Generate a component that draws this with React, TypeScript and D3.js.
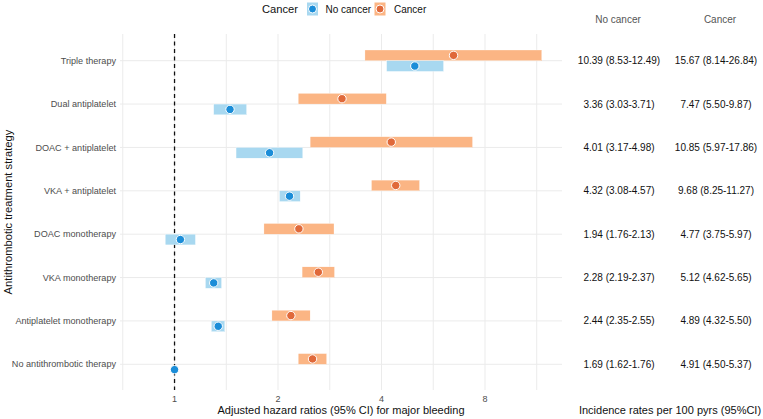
import * as d3 from "d3";

const categories = [
  "Triple therapy",
  "Dual antiplatelet",
  "DOAC + antiplatelet",
  "VKA + antiplatelet",
  "DOAC monotherapy",
  "VKA monotherapy",
  "Antiplatelet monotherapy",
  "No antithrombotic therapy",
];

// adjusted hazard ratios
const cancerHr = [6.48, 3.07, 4.27, 4.4, 2.3, 2.62, 2.18, 2.52];
const cancerLo = [3.58, 2.29, 2.48, 3.74, 1.82, 2.35, 1.92, 2.29];
const cancerHi = [11.7, 4.13, 7.36, 5.16, 2.91, 2.92, 2.48, 2.77];

const noCancerHr = [5.0, 1.45, 1.89, 2.16, 1.04, 1.3, 1.34, 1.0];
const noCancerLo = [4.14, 1.3, 1.51, 2.02, 0.94, 1.23, 1.28, 1.0];
const noCancerHi = [6.06, 1.62, 2.36, 2.32, 1.15, 1.37, 1.4, 1.0];

const noCancerIr = [
  "10.39 (8.53-12.49)",
  "3.36 (3.03-3.71)",
  "4.01 (3.17-4.98)",
  "4.32 (3.08-4.57)",
  "1.94 (1.76-2.13)",
  "2.28 (2.19-2.37)",
  "2.44 (2.35-2.55)",
  "1.69 (1.62-1.76)",
];
const cancerIr = [
  "15.67 (8.14-26.84)",
  "7.47 (5.50-9.87)",
  "10.85 (5.97-17.86)",
  "9.68 (8.25-11.27)",
  "4.77 (3.75-5.97)",
  "5.12 (4.62-5.65)",
  "4.89 (4.32-5.50)",
  "4.91 (4.50-5.37)",
];

const xTicks = [1, 2, 4, 8];

const W = 763;
const H = 419;
const font = "'Liberation Sans', Arial, sans-serif";

const orangeFill = "#fbb584";
const orangePt = "#e0693a";
const blueFill = "#a8d8f0";
const bluePt = "#1b8dd8";

export default function App() {
  const panelL = 120;
  const panelR = 562;
  const panelT = 34;
  const panelB = 390;

  const x = d3.scaleLog().base(2).domain([0.694, 13.4]).range([panelL, panelR]);
  const y = d3.scalePoint<string>().domain(categories).range([60.7, 364.3]);

  const gridVals = d3.range(-1, 8).map((k) => Math.pow(2, k / 2));
  const bh = 10.7;

  const series = [
    { name: "Cancer", hr: cancerHr, lo: cancerLo, hi: cancerHi, fill: orangeFill, pt: orangePt, off: -bh },
    { name: "No cancer", hr: noCancerHr, lo: noCancerLo, hi: noCancerHi, fill: blueFill, pt: bluePt, off: 0 },
  ];

  return (
    <svg
      width={W}
      height={H}
      style={{ position: "absolute", left: 0, top: 0, background: "#fff" }}
      fontFamily={font}
    >
      {/* grid */}
      {gridVals.map((v) => (
        <line key={"gx" + v} x1={x(v)} x2={x(v)} y1={panelT} y2={panelB} stroke="#ebebeb" strokeWidth={1} />
      ))}
      {categories.map((c) => (
        <line key={"gy" + c} x1={panelL} x2={panelR} y1={y(c)} y2={y(c)} stroke="#ebebeb" strokeWidth={1} />
      ))}

      {/* dashed reference */}
      <line x1={x(1)} x2={x(1)} y1={panelT} y2={panelB} stroke="#111" strokeWidth={1.3} strokeDasharray="4,3.5" />

      {/* bars + points */}
      {series.map((s) =>
        categories.map((c, i) => {
          const y0 = (y(c) as number) + s.off;
          const w = x(s.hi[i]) - x(s.lo[i]);
          return (
            <g key={s.name + c}>
              {w > 0 && (
                <rect x={x(s.lo[i])} y={y0} width={w} height={bh} fill={s.fill} stroke="#fff" strokeWidth={0.3} />
              )}
              <circle cx={x(s.hr[i])} cy={y0 + bh / 2} r={4.2} fill={s.pt} stroke="#fff" strokeWidth={1} />
            </g>
          );
        })
      )}

      {/* y labels */}
      {categories.map((c) => (
        <text key={"yl" + c} x={116} y={y(c)} dy="0.35em" textAnchor="end" fontSize={9.1} fill="#4d4d4d">
          {c}
        </text>
      ))}
      <text
        transform={`translate(8,${(panelT + panelB) / 2}) rotate(-90)`}
        textAnchor="middle"
        dy="0.35em"
        fontSize={11.2}
        fill="#111"
      >
        Antithrombotic treatment strategy
      </text>

      {/* x ticks */}
      {xTicks.map((t) => (
        <text key={"xt" + t} x={x(t)} y={399} dy="0.35em" textAnchor="middle" fontSize={9} fill="#4d4d4d">
          {t}
        </text>
      ))}
      <text x={341} y={410.5} dy="0.35em" textAnchor="middle" fontSize={11} fill="#111">
        Adjusted hazard ratios (95% CI) for major bleeding
      </text>

      {/* legend */}
      <text x={262} y={9} dy="0.35em" fontSize={11.2} fill="#111">
        Cancer
      </text>
      <rect x={307} y={2.5} width={11} height={13} fill={blueFill} />
      <circle cx={312.5} cy={9} r={4} fill={bluePt} stroke="#fff" strokeWidth={1} />
      <text x={325.5} y={9} dy="0.35em" fontSize={10} fill="#111">
        No cancer
      </text>
      <rect x={374.5} y={2.5} width={11} height={13} fill={orangeFill} />
      <circle cx={380} cy={9} r={4} fill={orangePt} stroke="#fff" strokeWidth={1} />
      <text x={394} y={9} dy="0.35em" fontSize={10} fill="#111">
        Cancer
      </text>

      {/* incidence table */}
      <text x={618} y={19} dy="0.35em" textAnchor="middle" fontSize={10} fill="#555">
        No cancer
      </text>
      <text x={720} y={19} dy="0.35em" textAnchor="middle" fontSize={10} fill="#555">
        Cancer
      </text>
      {categories.map((c, i) => (
        <g key={"ir" + c}>
          <text x={619} y={y(c)} dy="0.35em" textAnchor="middle" fontSize={10} fill="#111">
            {noCancerIr[i]}
          </text>
          <text x={716} y={y(c)} dy="0.35em" textAnchor="middle" fontSize={10} fill="#111">
            {cancerIr[i]}
          </text>
        </g>
      ))}
      <text x={670} y={410} dy="0.35em" textAnchor="middle" fontSize={11} fill="#111">
        Incidence rates per 100 pyrs (95%CI)
      </text>
    </svg>
  );
}
